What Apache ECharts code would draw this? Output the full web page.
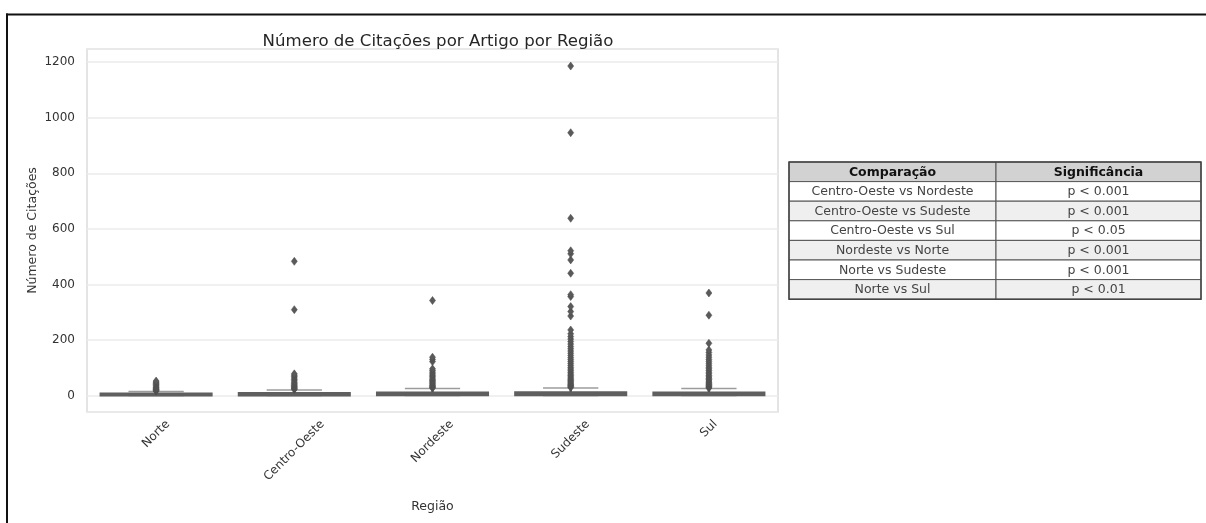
<!DOCTYPE html>
<html>
<head>
<meta charset="utf-8">
<script src="https://cdn.jsdelivr.net/npm/echarts@6/dist/echarts.min.js"></script>
<style>
  html, body { margin: 0; padding: 0; background: #ffffff; }
  #chart { width: 1206px; height: 523px; }
</style>
</head>
<body>
<div id="chart"></div>
<script>
// Citations per article, by region: box statistics
const regions = ['Norte', 'Centro-Oeste', 'Nordeste', 'Sudeste', 'Sul'];
const whiskerLow = [0, 0, 0, 0, 0];
const quartile1 = [1, 1, 2, 2, 2];
const medians = [3, 3, 4, 5, 5];
const quartile3 = [6, 8, 10, 11, 10];
const whiskerHigh = [14, 20, 25, 27, 25];

// Points beyond the upper whisker, per region
const outliersNorte = [16, 18, 20, 22, 25, 28, 31, 35, 40, 44, 48, 52];
const outliersCentroOeste = [22, 24, 27, 30, 33, 36, 40, 44, 48, 53, 58, 63, 68, 73, 78, 309, 483];
const outliersNordeste = [27, 29, 32, 35, 38, 42, 46, 50, 54, 58, 63, 68, 73, 78, 84, 90, 96, 122, 130, 138, 342];
const outliersSudeste = [29, 32, 35, 38, 41, 45, 49, 53, 57, 62, 67, 72, 77, 83, 89, 95, 101, 108, 115, 122,
  129, 136, 144, 152, 160, 168, 176, 185, 194, 203, 212, 222, 236, 286, 302, 320, 356, 363, 440, 488, 510, 521,
  638, 946, 1186];
const outliersSul = [27, 30, 33, 36, 40, 44, 48, 52, 57, 62, 67, 72, 78, 84, 90, 96, 102, 109, 116, 123, 130,
  138, 146, 155, 164, 188, 289, 369];

// Y axis range and tick step
const yMin = -59.4;
const yMax = 1247.4;
const yStep = 200;

// Pairwise comparison table
const tableHeader = ['Comparação', 'Significância'];
const comparisons = ['Centro-Oeste vs Nordeste', 'Centro-Oeste vs Sudeste', 'Centro-Oeste vs Sul',
  'Nordeste vs Norte', 'Norte vs Sudeste', 'Norte vs Sul'];
const significance = ['p < 0.001', 'p < 0.001', 'p < 0.05', 'p < 0.001', 'p < 0.001', 'p < 0.01'];

const FONT = 'DejaVu Sans';
const TICK_SIZE = 12;

const boxRows = regions.map((_, i) =>
  [i, whiskerLow[i], quartile1[i], medians[i], quartile3[i], whiskerHigh[i]]);

const outlierPoints = [];
[outliersNorte, outliersCentroOeste, outliersNordeste, outliersSudeste, outliersSul].forEach((arr, i) => {
  arr.forEach(v => outlierPoints.push([i, v]));
});

// Rotated tick labels: the bounding box of each label is centred under its
// tick with its top just below the axis. A taller line box moves the text
// down its own normal; the right padding pulls it back along the baseline,
// so the net shift is straight down by an amount set by the label width.
const measureCtx = document.createElement('canvas').getContext('2d');
measureCtx.font = TICK_SIZE + 'px "' + FONT + '"';
const xAxisData = regions.map(name => {
  const w = measureCtx.measureText(name).width;
  const lh = 0.5 * (w + TICK_SIZE);
  return {
    value: name,
    textStyle: { align: 'center', verticalAlign: 'top', lineHeight: lh, padding: [0, lh, 0, 0] }
  };
});

// Table drawn as graphic elements
function buildTable() {
  const x0 = 789, y0 = 162;
  const colW = [207, 205];
  const rowH = 19.6;
  const children = [];
  const rows = [tableHeader].concat(comparisons.map((c, i) => [c, significance[i]]));
  rows.forEach((row, r) => {
    let x = x0;
    row.forEach((cell, c) => {
      const fill = r === 0 ? '#d2d2d2' : (r % 2 === 0 ? '#efefef' : '#ffffff');
      children.push({
        type: 'rect',
        shape: { x: x, y: y0 + r * rowH, width: colW[c], height: rowH },
        style: { fill: fill, stroke: '#555555', lineWidth: 1 }
      });
      children.push({
        type: 'text',
        style: {
          text: cell,
          x: x + colW[c] / 2,
          y: y0 + r * rowH + rowH / 2 + 0.5,
          align: 'center',
          verticalAlign: 'middle',
          fontFamily: FONT,
          fontSize: 12.5,
          fontWeight: r === 0 ? 'bold' : 'normal',
          fill: r === 0 ? '#111111' : '#444444'
        }
      });
      x += colW[c];
    });
  });
  children.push({
    type: 'rect',
    shape: { x: x0, y: y0, width: colW[0] + colW[1], height: rowH * rows.length },
    style: { fill: 'none', stroke: '#444444', lineWidth: 1.5 }
  });
  return children;
}

const chart = echarts.init(document.getElementById('chart'), null, { renderer: 'canvas' });

chart.setOption({
  animation: false,
  backgroundColor: '#ffffff',
  textStyle: { fontFamily: FONT },
  title: {
    text: 'Número de Citações por Artigo por Região',
    left: 433,
    top: 28,
    textAlign: 'center',
    textStyle: { fontFamily: FONT, fontSize: 16.6, fontWeight: 'normal', color: '#262626' }
  },
  grid: {
    left: 87, top: 49, width: 691, height: 363,
    outerBoundsMode: 'none',
    containLabel: false,
    show: true, borderColor: '#dcdcdc', borderWidth: 1.5, backgroundColor: '#ffffff'
  },
  xAxis: {
    type: 'category',
    data: xAxisData,
    boundaryGap: true,
    name: 'Região',
    nameLocation: 'middle',
    nameGap: 88,
    nameMoveOverlap: false,
    nameTextStyle: { fontFamily: FONT, fontSize: 12.5, color: '#333333' },
    axisLine: { show: false },
    axisTick: { show: false },
    splitLine: { show: false },
    axisLabel: {
      interval: 0,
      rotate: 45,
      margin: 6,
      fontFamily: FONT,
      fontSize: TICK_SIZE,
      color: '#333333'
    }
  },
  yAxis: {
    type: 'value',
    min: yMin,
    max: yMax,
    splitNumber: 6,
    minInterval: yStep,
    maxInterval: yStep,
    name: 'Número de Citações',
    nameLocation: 'middle',
    nameGap: 48,
    nameMoveOverlap: false,
    nameTextStyle: { fontFamily: FONT, fontSize: 12.5, color: '#333333' },
    axisLine: { show: false },
    axisTick: { show: false },
    splitLine: { show: true, lineStyle: { color: '#ebebeb', width: 1.5 } },
    axisLabel: {
      showMinLabel: false,
      showMaxLabel: false,
      margin: 12,
      fontFamily: FONT,
      fontSize: TICK_SIZE,
      color: '#333333',
      formatter: v => String(Math.round(v))
    }
  },
  series: [
    {
      type: 'custom',
      name: 'box',
      data: boxRows,
      encode: { x: 0, y: [1, 2, 3, 4, 5] },
      z: 2,
      renderItem: function (params, api) {
        const i = api.value(0);
        const band = api.size([1, 0])[0];
        const boxW = band * 0.8;
        const capW = boxW * 0.5;
        const x = api.coord([i, 0])[0];
        const yLow = api.coord([i, api.value(1)])[1];
        const yQ1 = api.coord([i, api.value(2)])[1];
        const yMed = api.coord([i, api.value(3)])[1];
        const yQ3 = api.coord([i, api.value(4)])[1];
        const yHigh = api.coord([i, api.value(5)])[1];
        const dark = '#5f5f5f';
        return {
          type: 'group',
          children: [
            { type: 'line', shape: { x1: x, y1: yQ3, x2: x, y2: yHigh },
              style: { stroke: dark, lineWidth: 2.5 } },
            { type: 'line', shape: { x1: x, y1: yQ1, x2: x, y2: yLow },
              style: { stroke: dark, lineWidth: 2.5 } },
            { type: 'line', shape: { x1: x - capW / 2, y1: yHigh, x2: x + capW / 2, y2: yHigh },
              style: { stroke: '#9c9c9c', lineWidth: 1.5 } },
            { type: 'line', shape: { x1: x - capW / 2, y1: yLow, x2: x + capW / 2, y2: yLow },
              style: { stroke: '#9c9c9c', lineWidth: 1.5 } },
            { type: 'rect', shape: { x: x - boxW / 2, y: yQ3, width: boxW, height: yQ1 - yQ3 },
              style: { fill: '#6a6a6a', stroke: dark, lineWidth: 2.5 } },
            { type: 'line', shape: { x1: x - boxW / 2, y1: yMed, x2: x + boxW / 2, y2: yMed },
              style: { stroke: dark, lineWidth: 2 } }
          ]
        };
      }
    },
    {
      type: 'scatter',
      name: 'outliers',
      data: outlierPoints,
      symbol: 'diamond',
      symbolSize: [6, 8],
      z: 3,
      itemStyle: { color: '#5a5a5a', borderColor: '#4a4a4a', borderWidth: 0.5, opacity: 1 }
    }
  ],
  graphic: [
    // outer frame lines
    { type: 'rect', shape: { x: 6, y: 13.5, width: 1200, height: 2 }, style: { fill: '#111111' }, z: 100 },
    { type: 'rect', shape: { x: 6, y: 13.5, width: 2, height: 510 }, style: { fill: '#111111' }, z: 100 },
    { type: 'group', children: buildTable(), z: 100 }
  ]
});
</script>
</body>
</html>
